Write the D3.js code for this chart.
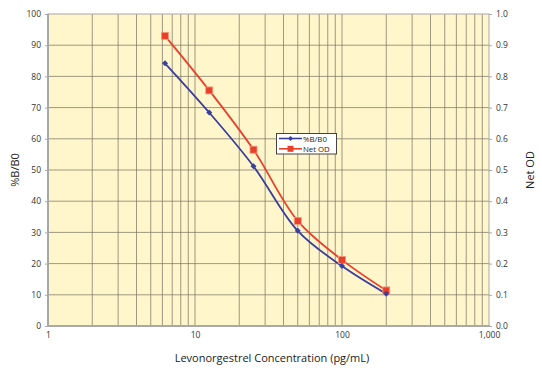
<!DOCTYPE html>
<html><head><meta charset="utf-8">
<script src="https://cdn.jsdelivr.net/npm/d3@7"></script>
<style>
body{margin:0;background:#fff;}
svg{display:block;font-family:"Open Sans",sans-serif;}
</style></head><body>
<script>
const concentrations = [6.25, 12.5, 25, 50, 100, 200];
const bb0 = [84.2, 68.4, 51.2, 30.5, 19.2, 10.3];
const netOD = [0.93, 0.755, 0.565, 0.337, 0.212, 0.114];
const xTicks = [1, 10, 100, 1000];
const xTickLabels = ["1", "10", "100", "1,000"];
const leftTicks = [0,10,20,30,40,50,60,70,80,90,100];
const rightTicks = [0,0.1,0.2,0.3,0.4,0.5,0.6,0.7,0.8,0.9,1.0];
const seriesNames = ["%B/B0", "Net OD"];

const W=542,H=372;
const m={l:48,t:14,r:489,b:326};
const svg=d3.select("body").append("svg").attr("width",W).attr("height",H);
const x=d3.scaleLog().domain([1,1000]).range([m.l,m.r]);
const yL=d3.scaleLinear().domain([0,100]).range([m.b,m.t]);
const yR=d3.scaleLinear().domain([0,1]).range([m.b,m.t]);

svg.append("rect").attr("x",m.l).attr("y",m.t).attr("width",m.r-m.l).attr("height",m.b-m.t).attr("fill","#FFF6CC");

// vertical grid
const vg=[];
for(let d=1;d<1000;d*=10){for(let k=1;k<=10;k++){vg.push(d*k);}}
const vgrid=Array.from(new Set(vg)).filter(v=>v>1&&v<1000);
svg.append("g").selectAll("line").data(vgrid).join("line")
 .attr("x1",d=>x(d)).attr("x2",d=>x(d)).attr("y1",m.t).attr("y2",m.b)
 .attr("stroke","#7f7a68").attr("stroke-width",0.9).attr("stroke-opacity",0.85);
// horizontal grid
svg.append("g").selectAll("line").data(leftTicks.filter(v=>v>0&&v<100)).join("line")
 .attr("x1",m.l).attr("x2",m.r).attr("y1",d=>yL(d)).attr("y2",d=>yL(d))
 .attr("stroke","#7f7a68").attr("stroke-width",0.9).attr("stroke-opacity",0.85);

// border
svg.append("rect").attr("x",m.l).attr("y",m.t).attr("width",m.r-m.l).attr("height",m.b-m.t)
 .attr("fill","none").attr("stroke","#a8a8a8").attr("stroke-width",1);
svg.append("line").attr("x1",m.l).attr("x2",m.l).attr("y1",m.t).attr("y2",m.b+1).attr("stroke","#a8a8a8").attr("stroke-width",2);
svg.append("line").attr("x1",m.l-1).attr("x2",m.r+1).attr("y1",m.b).attr("y2",m.b).attr("stroke","#a8a8a8").attr("stroke-width",2);

// axes
const ax=svg.append("g").attr("transform",`translate(0,${m.b})`)
 .call(d3.axisBottom(x).tickValues(xTicks).tickFormat((d,i)=>xTickLabels[i]).tickSize(0).tickPadding(7));
const al=svg.append("g").attr("transform",`translate(${m.l},0)`)
 .call(d3.axisLeft(yL).tickValues(leftTicks).tickSize(3).tickPadding(4));
const ar=svg.append("g").attr("transform",`translate(${m.r},0)`)
 .call(d3.axisRight(yR).tickValues(rightTicks).tickFormat(d3.format(".1f")).tickSize(3).tickPadding(4));
[ax,al,ar].forEach(g=>{
 g.select(".domain").remove();
 g.selectAll(".tick line").attr("stroke","#a8a8a8");
 g.selectAll("text").attr("font-size",8.5).attr("fill","#333").attr("font-family","Open Sans, sans-serif");
});
ax.selectAll("text").attr("dy","0.6em");

// titles
svg.append("text").attr("x",272).attr("y",362).attr("text-anchor","middle")
 .attr("font-size",11).attr("fill","#222").text("Levonorgestrel Concentration (pg/mL)");
svg.append("text").attr("transform","translate(19,170) rotate(-90)").attr("text-anchor","middle")
 .attr("font-size",11).attr("fill","#222").text(seriesNames[0]);
svg.append("text").attr("transform","translate(534,170) rotate(-90)").attr("text-anchor","middle")
 .attr("font-size",11).attr("fill","#222").text("Net OD");

const blue="#3B3F9A", red="#E8402B";
const curve=d3.curveCatmullRom.alpha(0.5);
const dB=concentrations.map((c,i)=>[c,bb0[i]]);
const dR=concentrations.map((c,i)=>[c,netOD[i]]);
svg.append("path").datum(dR).attr("fill","none").attr("stroke",red).attr("stroke-width",1.8)
 .attr("d",d3.line().x(d=>x(d[0])).y(d=>yR(d[1])).curve(curve));
svg.append("path").datum(dB).attr("fill","none").attr("stroke",blue).attr("stroke-width",1.8)
 .attr("d",d3.line().x(d=>x(d[0])).y(d=>yL(d[1])).curve(curve));
svg.append("g").selectAll("rect").data(dR).join("rect")
 .attr("x",d=>x(d[0])-3.5).attr("y",d=>yR(d[1])-3.5).attr("width",7).attr("height",7)
 .attr("fill",red).attr("stroke","#F59A7E").attr("stroke-width",0.8);
const diamond=d3.symbol().type(d3.symbolSquare).size(18);
svg.append("g").selectAll("path").data(dB).join("path")
 .attr("transform",d=>`translate(${x(d[0])},${yL(d[1])}) rotate(45)`).attr("d",diamond).attr("fill",blue);

// legend
const lg=svg.append("g");
lg.append("rect").attr("x",276.5).attr("y",133.5).attr("width",60).attr("height",20.5)
 .attr("fill","#fff").attr("stroke","#444").attr("stroke-width",1);
const items=[{n:seriesNames[0],c:blue,t:"d"},{n:seriesNames[1],c:red,t:"s"}];
items.forEach((it,i)=>{
 const yy=138.5+i*10.3;
 lg.append("line").attr("x1",279).attr("x2",302).attr("y1",yy).attr("y2",yy).attr("stroke",it.c).attr("stroke-width",1.6);
 if(it.t==="d") lg.append("path").attr("transform",`translate(290.5,${yy}) rotate(45)`).attr("d",d3.symbol().type(d3.symbolSquare).size(12)).attr("fill",it.c);
 else lg.append("rect").attr("x",287.5).attr("y",yy-3).attr("width",6).attr("height",6).attr("fill",it.c);
 lg.append("text").attr("x",303).attr("y",yy+3).attr("font-size",7.8).attr("fill","#222").text(it.n);
});
</script>
</body></html>
